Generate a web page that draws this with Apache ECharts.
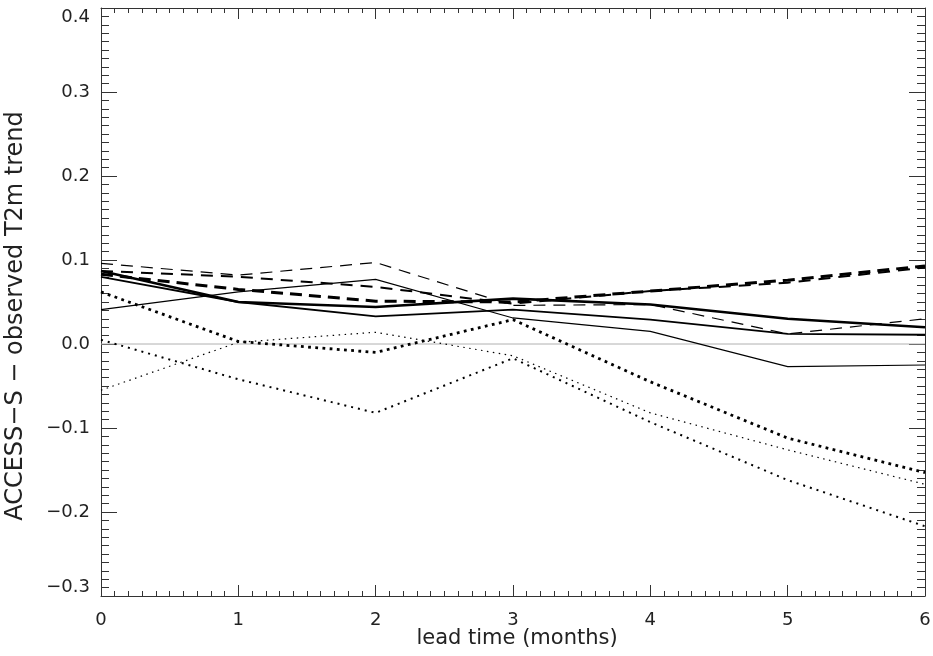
<!DOCTYPE html>
<html>
<head>
<meta charset="utf-8">
<script src="https://cdn.jsdelivr.net/npm/echarts@6/dist/echarts.min.js"></script>
<style>
html,body{margin:0;padding:0;background:#fff;}
#chart{width:933px;height:656px;}
</style>
</head>
<body>
<div id="chart"></div>
<script>
const leadTime = [0, 1, 2, 3, 4, 5, 6];
const yTicks = [-0.3, -0.2, -0.1, 0.0, 0.1, 0.2, 0.3, 0.4];
const solidThick   = [0.087, 0.050, 0.044, 0.054, 0.047, 0.030, 0.020];
const solidMedium  = [0.080, 0.050, 0.033, 0.041, 0.029, 0.012, 0.011];
const solidThin    = [0.041, 0.062, 0.077, 0.031, 0.015, -0.027, -0.025];
const dashedThin   = [0.096, 0.082, 0.097, 0.046, 0.047, 0.012, 0.030];
const dashedMedium = [0.087, 0.080, 0.068, 0.048, 0.063, 0.073, 0.091];
const dashedThick  = [0.083, 0.065, 0.051, 0.050, 0.063, 0.076, 0.093];
const dottedThick  = [0.062, 0.003, -0.010, 0.029, -0.045, -0.112, -0.153];
const dottedThin   = [-0.055, 0.002, 0.014, -0.014, -0.082, -0.126, -0.167];
const dottedMedium = [0.005, -0.042, -0.082, -0.017, -0.093, -0.162, -0.217];
const zeroLine = [0, 0];

const FONT = 'DejaVu Sans';
const AXC = '#333';

function pairs(arr){ return leadTime.map((x,i)=>[x, arr[i]]); }
function mk(arr, width, type){
  return {
    type: 'line', data: pairs(arr), symbol: 'none', silent: true,
    xAxisIndex: 0, yAxisIndex: 0,
    lineStyle: { color: '#000', width: width, type: type, cap: 'butt', join: 'miter' }
  };
}
function fmtY(v){
  return (Math.round(v*10)/10).toFixed(1).replace('-', '\u2212');
}
const xBase = {
  type: 'value', min: 0, max: 6, interval: 1,
  axisLine: { show: true, onZero: false, lineStyle: { color: AXC, width: 1 } },
  axisTick: { show: true, inside: true, length: 11, lineStyle: { color: AXC } },
  minorTick: { show: true, splitNumber: 10, length: 5, lineStyle: { color: AXC } },
  splitLine: { show: false }, minorSplitLine: { show: false }
};
const yBase = {
  type: 'value', min: -0.3, max: 0.4, interval: 0.1,
  axisLine: { show: true, onZero: false, lineStyle: { color: AXC, width: 1 } },
  axisTick: { show: true, inside: true, length: 16, lineStyle: { color: AXC } },
  minorTick: { show: true, splitNumber: 10, length: 8, lineStyle: { color: AXC } },
  splitLine: { show: false }, minorSplitLine: { show: false }
};

const option = {
  animation: false,
  backgroundColor: '#fff',
  grid: { left: 101, right: 8, top: 8, bottom: 60, containLabel: false, outerBoundsMode: 'none' },
  xAxis: [
    Object.assign({}, xBase, {
      position: 'bottom',
      name: 'lead time (months)', nameLocation: 'middle', nameGap: 32, nameMoveOverlap: false,
      nameTextStyle: { fontFamily: FONT, fontSize: 21, color: '#222', padding: [0, 0, 0, 8] },
      axisLabel: { show: true, margin: 15, fontFamily: FONT, fontSize: 18, color: '#222',
        formatter: v => String(Math.round(v)) }
    }),
    Object.assign({}, xBase, { position: 'top', axisLabel: { show: false } })
  ],
  yAxis: [
    Object.assign({}, yBase, {
      position: 'left',
      name: 'ACCESS\u2212S \u2212 observed T2m trend', nameLocation: 'middle', nameGap: 73, nameMoveOverlap: false,
      nameTextStyle: { fontFamily: FONT, fontSize: 24, color: '#222', padding: [0, 28, 0, 0] },
      axisLabel: { show: true, margin: 11, fontFamily: FONT, fontSize: 18, color: '#222',
        formatter: fmtY, verticalAlignMaxLabel: 'top', verticalAlignMinLabel: 'bottom' }
    }),
    Object.assign({}, yBase, { position: 'right', axisLabel: { show: false } })
  ],
  series: [
    { type: 'line', data: [[leadTime[0], zeroLine[0]], [leadTime[leadTime.length-1], zeroLine[1]]],
      symbol: 'none', silent: true, lineStyle: { color: '#b0b0b0', width: 1 } },
    mk(solidThin, 1.2, 'solid'),
    mk(solidMedium, 1.8, 'solid'),
    mk(solidThick, 2.6, 'solid'),
    mk(dashedThin, 1.2, [12, 8]),
    mk(dashedMedium, 2, [12, 8]),
    mk(dashedThick, 3, [12, 7]),
    mk(dottedThin, 1.2, [1.5, 4.5]),
    mk(dottedMedium, 2, [2, 5]),
    mk(dottedThick, 2.8, [2.8, 4.4])
  ]
};
const chart = echarts.init(document.getElementById('chart'), null, { renderer: 'canvas' });
chart.setOption(option);
</script>
</body>
</html>
